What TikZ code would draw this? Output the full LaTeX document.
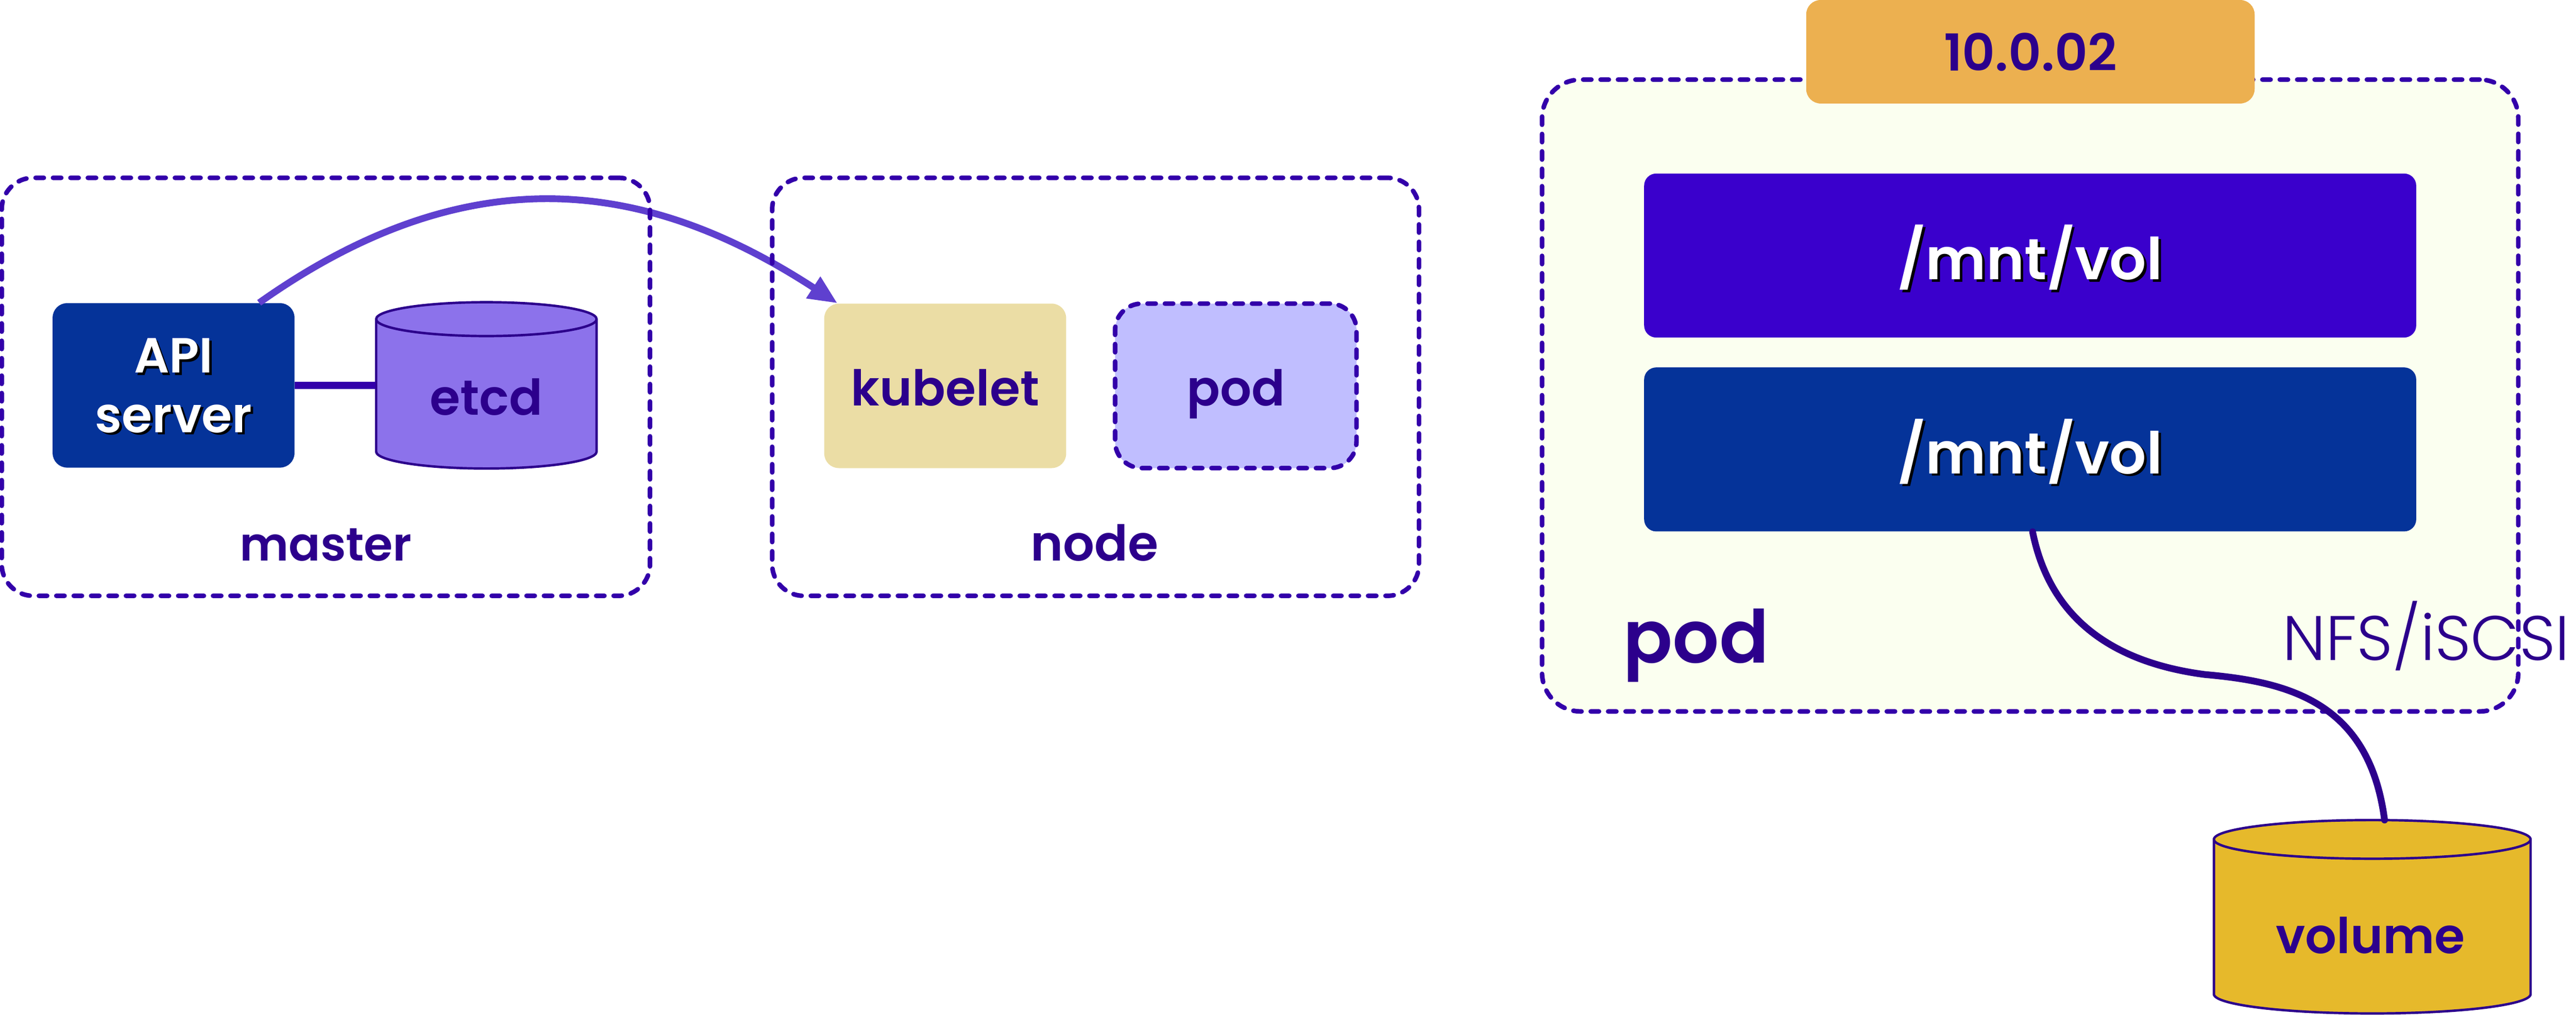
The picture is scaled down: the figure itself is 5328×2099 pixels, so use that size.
\documentclass[tikz,border=0pt]{standalone}
\usepackage{fontspec}
\setmainfont{Poppins}[BoldFont={Poppins SemiBold}]
\newfontfamily\plight{Poppins Light}
\usetikzlibrary{arrows.meta,calc}
\definecolor{ink}{HTML}{2C008C}
\definecolor{dashc}{HTML}{3300AA}
\definecolor{arrowc}{HTML}{5F40CF}
\definecolor{cobalt}{HTML}{053399}
\definecolor{violetb}{HTML}{3A00CC}
\definecolor{etcdc}{HTML}{8C72EB}
\definecolor{kubec}{HTML}{EBDDA5}
\definecolor{podc}{HTML}{C0BEFF}
\definecolor{ipc}{HTML}{ECB050}
\definecolor{volc}{HTML}{E6B92B}
\definecolor{podbg}{HTML}{FBFFF0}
\newcommand{\shadowed}[1]{\makebox[0pt][l]{\hspace{.05cm}\raisebox{-.05cm}{\textcolor{black}{#1}}}#1}
\newcommand{\cyl}[6]{% x0 x1 ytopcentre ybottomcentre ry fill
  \path[draw=ink,line width=.05cm,fill=#6] (#1,#3) -- (#1,#4)
    arc[start angle=180,end angle=0,x radius={(#2-#1)/2},y radius=#5] -- (#2,#3)
    arc[start angle=0,end angle=-180,x radius={(#2-#1)/2},y radius=#5] -- cycle;
  \path[draw=ink,line width=.05cm] (#1,#3)
    arc[start angle=180,end angle=0,x radius={(#2-#1)/2},y radius=#5];
}
\tikzset{
  dashbox/.style={draw=dashc,line width=.095cm,line cap=round,dash pattern=on .17cm off .19cm,rectangle,inner sep=0pt},
  solidbox/.style={rectangle,inner sep=0pt,rounded corners=.3cm,text depth=0pt},
  boldtxt/.style={font=\fontsize{29}{35}\selectfont\bfseries,text=ink},
  whitetxt/.style={font=\fontsize{34}{40}\selectfont\bfseries,text=white},
  plain/.style={inner sep=0pt,anchor=base},
  linkline/.style={draw=dashc,line width=.15cm},
  wire/.style={draw=ink,line width=.14cm,line cap=round},
  push/.style={draw=arrowc,line width=.14cm,-{Stealth[length=.6cm,width=.5cm,inset=0pt]}},
}
\begin{document}
\begin{tikzpicture}[x=.01cm,y=-.01cm]
\useasboundingbox (0,0) rectangle (5328,2099);
\node[solidbox,fill=cobalt,minimum width=5cm,minimum height=3.4cm,align=center,whitetxt,font=\fontsize{29}{35}\selectfont\bfseries] (api) at (359,797) {\shadowed{API}\\\shadowed{server}};
\node[solidbox,fill=kubec,minimum width=5cm,minimum height=3.4cm,boldtxt,text height=.82cm] (kubelet) at (1955,798) {kubelet};
\draw[push] ($(api.north)+(177,0)$) .. controls (981,311) and (1350,378) .. ($(kubelet.north west)+(28,0)$);
\node[dashbox,rounded corners=.65cm,minimum width=13.4cm,minimum height=8.64cm] (master) at (674,800) {};
\node[dashbox,rounded corners=.65cm,minimum width=13.37cm,minimum height=8.64cm] (nodebox) at (2266,800) {};
\node[dashbox,rounded corners=.55cm,fill=podc,minimum width=4.99cm,minimum height=3.4cm,boldtxt,text height=.82cm,text depth=0pt] (podsmall) at (2556,798) {pod};
\cyl{778}{1234}{660}{934}{35}{etcdc}
\node[inner sep=0pt,minimum width=4.56cm,minimum height=3.4cm,boldtxt,text height=1.2cm,text depth=0pt] (etcd) at (1006,798) {etcd};
\draw[linkline] (api.east) -- (etcd.west |- api.east);
\node[plain,text=ink,font=\fontsize{27.5}{35}\selectfont\bfseries] (masterlabel) at (674,1160) {master};
\node[plain,boldtxt] (nodelabel) at (2264,1160) {node};
\node[rectangle,inner sep=0pt,fill=podbg,rounded corners=.8cm,minimum width=20.18cm,minimum height=13.06cm] (pod) at (4199,818) {};
\node[plain,font=\fontsize{37}{40}\selectfont\plight,text=ink] (nfs) at (5018,1366) {NFS/iSCSI};
\node[dashbox,rounded corners=.8cm,minimum width=20.18cm,minimum height=13.06cm] (podframe) at (4199,818) {};
\node[solidbox,fill=ipc,minimum width=9.27cm,minimum height=2.14cm,font=\fontsize{30}{35}\selectfont\bfseries,text=ink,text height=.8cm] (ip) at (4199.5,107) {10.0.02};
\node[solidbox,rounded corners=.25cm,fill=violetb,minimum width=15.96cm,minimum height=3.39cm,whitetxt,text height=1.0cm] (mntA) at (4199,528.5) {\shadowed{/mnt/vol}};
\node[solidbox,rounded corners=.25cm,fill=cobalt,minimum width=15.96cm,minimum height=3.39cm,whitetxt,text height=1.0cm] (mntB) at (4199,929.5) {\shadowed{/mnt/vol}};
\node[plain,font=\fontsize{43}{50}\selectfont\bfseries,text=ink] (podlabel) at (3508,1371) {pod};
\cyl{4579}{5234}{1736}{2056}{40}{volc}
\node[inner sep=0pt,minimum width=6.55cm,minimum height=4cm,anchor=north] (volume) at (4906,1696) {};
\node[plain,boldtxt] (volumelabel) at (4903,1972) {volume};
\draw[wire] ($(mntB.south)+(5,0)$) .. controls (4240,1280) and (4370,1370) .. (4560,1395)
   .. controls (4730,1410) and (4900,1450) .. ($(volume.north)+(26,0)$);
\end{tikzpicture}
\end{document}
